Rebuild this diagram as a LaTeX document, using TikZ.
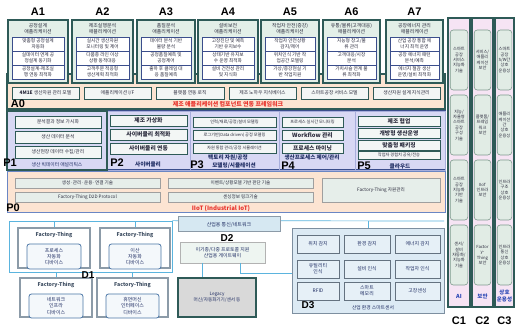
\documentclass[tikz,border=0pt]{standalone}
\usepackage{fontspec}
\setmainfont{Noto Sans CJK KR}
\newfontfamily\lab{Liberation Sans}
\usetikzlibrary{calc}
\definecolor{tealdk}{HTML}{2E5A57}
\definecolor{agreen}{HTML}{E3EFE8}
\definecolor{peach}{HTML}{FCE4D2}
\definecolor{lav}{HTML}{D8D8F4}
\definecolor{navyb}{HTML}{3B4E8C}
\definecolor{pdivc}{HTML}{A8AEDC}
\definecolor{redt}{HTML}{E8312A}
\definecolor{itemfill}{HTML}{F3F6F5}
\definecolor{p0itemf}{HTML}{E6EEEA}
\definecolor{p0bd}{HTML}{6A86C4}
\definecolor{lblue}{HTML}{5BB4DE}
\definecolor{ftgray}{HTML}{8C9BA8}
\definecolor{ftblue}{HTML}{4A76A6}
\definecolor{ftinf}{HTML}{F4F8FB}
\definecolor{fttxt}{HTML}{3A4A5E}
\definecolor{netfill}{HTML}{D6E8F2}
\definecolor{gwfill}{HTML}{EEF5F1}
\definecolor{legfill}{HTML}{D9D9D9}
\definecolor{d3fill}{HTML}{DCEAF4}
\definecolor{d3bd}{HTML}{7D8FA0}
\definecolor{cpink}{HTML}{F6E4F4}
\definecolor{cgreen}{HTML}{E1ECE5}
\definecolor{cgbd}{HTML}{7E9C8E}
\definecolor{cblue}{HTML}{2846B4}
\definecolor{txt}{HTML}{2A2A3C}
\definecolor{txtnavy}{HTML}{1F2D63}

\newcommand{\bx}[7]{%
\pgfmathsetmacro\myW{#5-#3}%
\pgfmathsetmacro\myH{#6-#4}%
\pgfmathsetmacro\myX{(#3+#5)/2}%
\pgfmathsetmacro\myY{(#4+#6)/2}%
\node[#1,minimum width=\myW pt,minimum height=\myH pt,inner sep=0pt,align=center] (#2) at (\myX,\myY) {#7};}

\newcommand{\acol}[7]{%
\pgfmathsetmacro\myXa{#2+4}%
\pgfmathsetmacro\myXb{#3-4}%
\pgfmathsetmacro\myXc{(#2+#3)/2}%
\bx{abox}{a#1}{#2}{20}{#3}{83}{}%
\node[biglab] (a#1l) at (\myXc,12) {A#1};%
\node[atitle] (a#1t) at (\myXc,28.5) {#4};%
\bx{aitem}{a#1i1}{\myXa}{37}{\myXb}{51}{#5}%
\bx{aitem}{a#1i2}{\myXa}{51}{\myXb}{65}{#6}%
\bx{aitem}{a#1i3}{\myXa}{65}{\myXb}{79}{#7}}

\newcommand{\ftb}[6]{%
\pgfmathsetmacro\myXa{#2+9}%
\pgfmathsetmacro\myXb{#4-9}%
\pgfmathsetmacro\myXc{(#2+#4)/2}%
\pgfmathsetmacro\myYa{#3+7}%
\pgfmathsetmacro\myYb{#3+16}%
\pgfmathsetmacro\myYc{#5+1}%
\bx{ftout}{ft#1}{#2}{#3}{#4}{#5}{}%
\node[fthead] (ft#1h) at (\myXc,\myYa) {Factory-Thing};%
\bx{ftin}{ft#1i}{\myXa}{\myYb}{\myXb}{\myYc}{#6}}

\newcommand{\ccol}[8]{%
\pgfmathsetmacro\myXa{#2+2.2}%
\pgfmathsetmacro\myXb{#3-2.2}%
\pgfmathsetmacro\myXc{(#2+#3)/2}%
\bx{ccolbox}{c#1}{#2}{18}{#3}{307}{}%
\bx{cin}{c#1b1}{\myXa}{30}{\myXb}{90}{#4}%
\bx{cin}{c#1b2}{\myXa}{95}{\myXb}{155}{#5}%
\bx{cin}{c#1b3}{\myXa}{160}{\myXb}{220}{#6}%
\bx{cin}{c#1b4}{\myXa}{225}{\myXb}{285}{#7}%
\node[clab] (c#1t) at (\myXc,296) {#8};%
\node[biglab] (c#1l) at (\myXc,321) {C#1};}

\tikzset{
 biglab/.style={font={\lab\bfseries\fontsize{11}{11}\selectfont},text=black,inner sep=0pt},
 midlab/.style={font={\lab\bfseries\fontsize{10}{10}\selectfont},text=black,inner sep=0pt},
 abox/.style={draw=tealdk,line width=1.3pt,fill=agreen},
 atitle/.style={font={\fontsize{4.9}{6.2}\selectfont},align=center,inner sep=0pt,text=txt},
 aitem/.style={draw=navyb,line width=0.5pt,fill=white,font={\fontsize{4.7}{5.7}\selectfont},text=txt},
 a0box/.style={draw=tealdk,line width=1.2pt,fill=peach},
 a0item/.style={draw=tealdk,line width=0.6pt,fill=itemfill,font={\fontsize{4.8}{5.8}\selectfont},text=txt},
 redlab/.style={font={\bfseries\fontsize{6}{7}\selectfont},text=redt,inner sep=0pt},
 preg/.style={draw=navyb,line width=1pt,fill=lav},
 p1box/.style={draw=tealdk,line width=1.3pt},
 psubbox/.style={draw=pdivc,line width=0.6pt},
 pitem/.style={draw=tealdk,line width=0.6pt,fill=itemfill,text=txt,font={\fontsize{4.8}{5.8}\selectfont}},
 pbig/.style={pitem,font={\bfseries\fontsize{5.8}{7}\selectfont}},
 psmall/.style={pitem,font={\fontsize{4.2}{5}\selectfont}},
 plab/.style={font={\bfseries\fontsize{5.6}{7.6}\selectfont},text=txtnavy,inner sep=0pt,align=center},
 plabs/.style={font={\fontsize{4.8}{6}\selectfont},text=txtnavy,inner sep=0pt},
 p0box/.style={draw=p0bd,line width=1pt,fill=peach},
 p0item/.style={draw=gray!75,line width=0.6pt,fill=p0itemf,font={\fontsize{4.6}{5.6}\selectfont},text=txt},
 bus/.style={draw=lblue,line width=0.7pt},
 d1rect/.style={draw=lblue,line width=0.7pt},
 ftout/.style={draw=ftgray,line width=1.2pt,fill=white},
 fthead/.style={font={\bfseries\fontsize{5.2}{6}\selectfont},text=fttxt,inner sep=0pt},
 ftin/.style={draw=ftblue,line width=0.8pt,rounded corners=2.5pt,fill=ftinf,font={\fontsize{5}{6.2}\selectfont},text=txtnavy},
 netbox/.style={draw=ftgray,line width=1pt,fill=netfill,font={\fontsize{5}{6}\selectfont},text=txtnavy},
 gwbox/.style={draw=gray!60,line width=0.8pt,fill=gwfill,font={\fontsize{4.9}{6.2}\selectfont},text=txtnavy},
 legbox/.style={draw=tealdk,line width=1.4pt,fill=legfill,font={\fontsize{4.6}{6}\selectfont},text=txtnavy},
 d3boxs/.style={draw=d3bd,line width=0.8pt,fill=d3fill},
 d3item/.style={draw=d3bd!80!black,line width=0.8pt,fill=d3fill!70!white,font={\fontsize{4.9}{6}\selectfont},text=txtnavy},
 d3cap/.style={font={\fontsize{4.8}{6}\selectfont},text=txtnavy,inner sep=0pt},
 ccolbox/.style={draw=tealdk,line width=1.2pt,fill=cpink},
 cin/.style={draw=cgbd,line width=0.6pt,fill=cgreen,rounded corners=3pt,font={\fontsize{4.2}{5.4}\selectfont},text=txt},
 clab/.style={font={\bfseries\fontsize{5.5}{6.5}\selectfont},text=cblue,inner sep=0pt,align=center}
}

\begin{document}
\begin{tikzpicture}[x=1pt,y=-1pt]
\useasboundingbox (0,0) rectangle (515,328);
\fill[white] (0,0) rectangle (515,328);

% ---------- A0 framework ----------
\bx{a0box}{a0}{7}{74}{445}{109}{}
\acol{1}{8}{68}{공정설계\\애플리케이션}{맞춤형 공정설계\\자동화}{실데이터 연계 공\\정설계 동기화}{공정설계-제조실\\행 연동 최적화}
\acol{2}{72}{133}{제조실행분석\\애플리케이션}{실시간 생산자원\\모니터링 및 제어}{다품종 라인 이상\\상황 동적대응}{고객주문 적응형\\생산계획 최적화}
\acol{3}{137}{195}{품질분석\\애플리케이션}{데이터 분석 기반\\불량 분석}{공정품질예측 및\\공정제어}{출하 후 클레임 대\\응 품질예측}
\acol{4}{198}{258}{설비보전\\애플리케이션}{고장진단 및 예측\\기반 유지보수}{상태기반 유지보\\수 운영 최적화}{설비 건전성 관리\\및 지식화}
\acol{5}{261}{319}{작업자 안전(증강)\\애플리케이션}{작업자 안전상황\\감지/제어}{위치인식 기반 작\\업공간 모델링}{가상/증강현실 기\\반 작업지원}
\acol{6}{323}{380}{유통/물류(고객대응)\\애플리케이션}{지능형 창고/물\\류 관리}{고객대응/시장\\분석}{가치사슬 연계 물\\류 최적화}
\acol{7}{386}{443}{공장에너지 관리\\애플리케이션}{산업 공장 통합 에\\너지 최적 운영}{공장 에너지 패턴\\분석/예측}{에너지 절감 생산\\운영/설비 최적화}

\bx{a0item}{a0i1}{12}{87}{79}{99}{{\bfseries 4M1E} 생산자원 관리 모델}
\bx{a0item}{a0i2}{84}{87}{151}{99}{애플리케이션 I/F}
\bx{a0item}{a0i3}{156}{87}{224}{99}{플랫폼 연동 로직}
\bx{a0item}{a0i4}{229}{87}{296}{99}{제조 노하우 지식베이스}
\bx{a0item}{a0i5}{301}{87}{368}{99}{스마트공장 서비스 모델}
\bx{a0item}{a0i6}{373}{87}{440}{99}{생산자원 설계 지식관리}
\node[biglab] (a0l) at (18,104) {A0};
\node[redlab] (a0r) at (228,104.5) {제조 애플리케이션 컴포넌트 연동 프레임워크};

% ---------- P platforms ----------
\bx{preg}{preg}{7}{111}{445}{170}{}
\bx{psubbox}{p2}{107}{111}{190}{170}{}
\bx{psubbox}{p3}{190}{111}{279}{170}{}
\bx{psubbox}{p4}{279}{111}{355}{170}{}
\bx{psubbox}{p5}{355}{111}{445}{170}{}
\bx{p1box}{p1}{7}{111}{107}{170}{}

\bx{pitem}{p1i1}{15}{116}{101}{128}{분석결과 정보 가시화}
\bx{pitem}{p1i2}{15}{131}{101}{143}{생산 데이터 분석}
\bx{pitem}{p1i3}{15}{146}{101}{158}{생산현장 데이터 수집/관리}
\node[biglab] (p1l) at (10,163) {P1};
\node[plabs] (p1s) at (57,165) {생산 빅데이터 애널리틱스};

\bx{pbig}{p2i1}{110}{115}{187}{126}{제조 가상화}
\bx{pbig}{p2i2}{110}{129}{187}{140}{사이버물리 최적화}
\bx{pbig}{p2i3}{110}{143}{187}{154}{사이버물리 연동}
\node[biglab] (p2l) at (117,162.5) {P2};
\node[plab] (p2s) at (148,164) {사이버물리};

\bx{psmall}{p3i1}{193}{117}{276}{127}{인력/재료/공정/설비 모델링}
\bx{psmall}{p3i2}{193}{130}{276}{140}{로그기반(Data driven) 공정 모델링}
\bx{psmall}{p3i3}{193}{143}{276}{153}{자원 통합 관리/공정 시뮬레이션}
\node[biglab] (p3l) at (197,164.5) {P3};
\node[plab] (p3s) at (228,161.5) {팩토리 자원/공정\\\hspace*{12pt}모델링/시뮬레이션};

\bx{psmall}{p4i1}{282}{117}{343}{127}{프로세스 실시간 모니터링}
\bx{pbig}{p4i2}{282}{130}{343}{140}{Workflow 관리}
\bx{pbig}{p4i3}{282}{143}{343}{153}{프로세스 마이닝}
\node[biglab] (p4l) at (288,166) {P4};
\node[plab] (p4s) at (312,157.5) {생산프로세스 제어/관리};

\bx{pbig}{p5i1}{358}{116}{440}{126}{제조 협업}
\bx{pbig}{p5i2}{358}{128}{440}{138}{개방형 생산운영}
\bx{pbig}{p5i3}{358}{140}{440}{150}{맞춤형 패키징}
\bx{psmall}{p5i4}{358}{151}{440}{159.5}{작업자 경험치 공유/전승}
\node[biglab] (p5l) at (364,166) {P5};
\node[plab] (p5s) at (400,166) {클라우드};

% ---------- P0 IIoT ----------
\bx{p0box}{p0}{7}{172}{445}{213}{}
\bx{p0item}{p0i1}{15}{178}{160}{188}{생성·관리·운용·연결 기술}
\bx{p0item}{p0i2}{15}{192}{160}{202}{Factory-Thing D2D Protocol}
\bx{p0item}{p0i3}{168}{178}{313}{188}{이벤트/상황모델 기반 판단 기술}
\bx{p0item}{p0i4}{168}{192}{313}{202}{센싱정보 링크기술}
\bx{p0item}{p0i5}{322}{178}{440}{202}{Factory-Thing 자원관리}
\node[biglab] (p0l) at (13,208) {P0};
\node[redlab] (p0r) at (221,209) {IIoT (Industrial IoT)};

% ---------- D devices ----------
\bx{d1rect}{d1box}{9}{221}{172}{272}{}
\coordinate (busR) at (444,221);
\draw[bus] (d1box.north east) -- (busR);

\ftb{1}{18}{228}{90}{268}{프로세스\\자동화\\디바이스}
\ftb{2}{100}{228}{170}{268}{이산\\자동화\\디바이스}
\ftb{3}{20}{278}{92}{317}{네트워크\\인프라\\디바이스}
\ftb{4}{97}{278}{168}{317}{휴먼머신\\인터페이스\\디바이스}
\draw[bus] (ft1.north) -- (ft1.north |- d1box.north);
\draw[bus] (ft2.north) -- (ft2.north |- d1box.north);
\draw[bus] (ft3.north) -- (ft3.north |- d1box.south);
\draw[bus] (ft4.north) -- (ft4.north |- d1box.south);
\node[midlab] (d1l) at (88,275) {D1};

\bx{netbox}{net}{178}{217}{280}{232}{산업용 통신/네트워크}
\node[midlab] (d2l) at (227,238.5) {D2};
\bx{gwbox}{gw}{180}{242}{265}{263}{이기종/다중 프로토콜 지원\\산업용 게이트웨이}
\bx{legbox}{leg}{178}{278}{256}{317}{Legacy\\머신/자동화기기/센서 등}

\bx{d3boxs}{d3box}{292}{228}{444}{313}{}
\draw[bus] (d3box.north) -- (d3box.north |- busR);
\coordinate (gwl) at (202,263);
\draw[bus] (gwl) -- (gwl |- leg.north);
\coordinate (gwr) at (240,263);
\coordinate (d3in) at (292,273);
\draw[bus] (gwr) |- (d3in);

\bx{d3item}{s1}{297}{235}{339}{253}{위치 감지}
\bx{d3item}{s2}{344}{235}{390}{253}{환경 감지}
\bx{d3item}{s3}{395}{235}{440}{253}{에너지 감지}
\bx{d3item}{s4}{297}{260}{339}{278}{유틸리티\\인식}
\bx{d3item}{s5}{344}{260}{390}{278}{설비 인식}
\bx{d3item}{s6}{395}{260}{440}{278}{작업자 인식}
\bx{d3item}{s7}{297}{282}{339}{300}{RFID}
\bx{d3item}{s8}{344}{282}{390}{300}{스마트\\메모리}
\bx{d3item}{s9}{395}{282}{440}{300}{고장센싱}
\node[midlab] (d3l) at (308,305) {D3};
\node[d3cap] (d3c) at (373,308) {산업 환경 스마트센서};

% ---------- C cross-cutting ----------
\ccol{1}{448}{470}{스마트\\공장\\서비스\\지능화\\기술}{지능/\\자율형\\스마트\\공장\\구성\\기술}{스마트\\공장\\지능화\\기반\\기술}{센서/\\설비\\자동화/\\지능화\\기술}{AI}
\ccol{2}{472}{493}{서비스/\\애플리\\케이션\\보안}{플랫폼/\\프레임\\워크\\보안}{IIoT\\인프라\\보안}{Factor\\y-\\Thing\\보안}{보안}
\ccol{3}{495}{514}{스마트\\공장\\S/W간\\상호\\운용성}{애플리\\케이션\\간\\상호\\운용성}{인프라\\구조\\상호\\운용성}{인프라\\통신\\상호\\운용성}{상호\\운용성}
\end{tikzpicture}
\end{document}
